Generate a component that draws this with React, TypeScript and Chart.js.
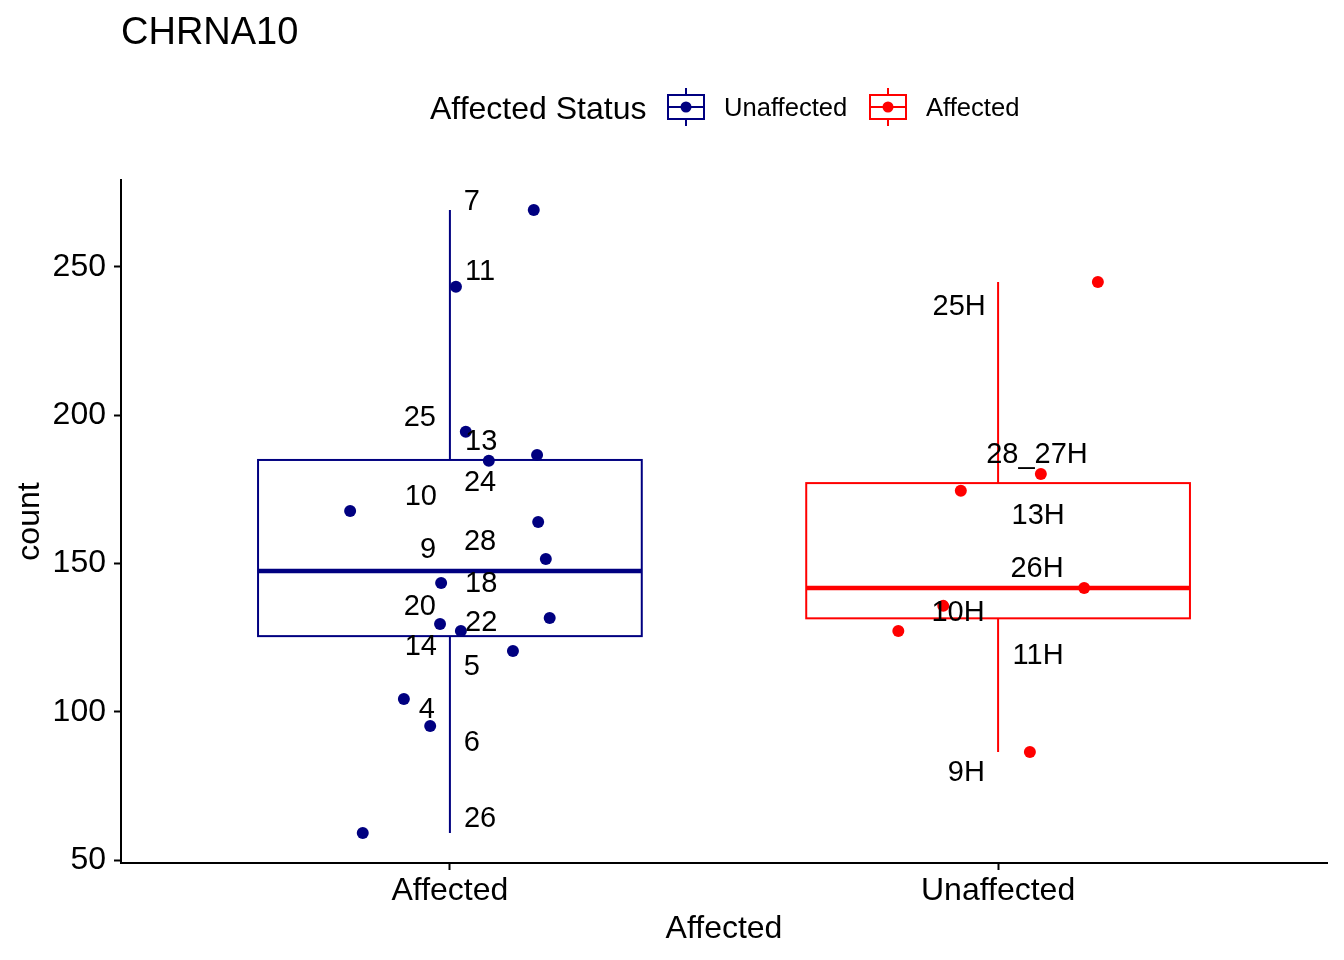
import { useEffect, useRef } from "react";
import { Chart, registerables } from "chart.js";

Chart.register(...registerables);

const FONT = "'Liberation Sans', Arial, Helvetica, sans-serif";

// categories on the x axis and their colours
const groups = ["Affected", "Unaffected"];
const groupColors = ["#000080", "#FF0000"];

// box statistics per group
const whiskerLow = [59.1, 86.4];
const q1 = [125.5, 131.5];
const median = [147.5, 141.7];
const q3 = [184.9, 177.1];
const whiskerHigh = [269.2, 244.9];

// jittered points
const affectedCounts = [269.2, 243.3, 194.4, 184.6, 186.6, 167.7, 164, 151.5, 143.4, 129.6, 127.2, 131.6, 120.5, 104.3, 95.2, 59.1];
const affectedJitter = [0.153, 0.011, 0.029, 0.071, 0.159, -0.182, 0.161, 0.175, -0.016, -0.018, 0.02, 0.182, 0.115, -0.084, -0.036, -0.159];
const unaffectedCounts = [244.9, 180.2, 174.5, 141.7, 135.7, 127.2, 86.4];
const unaffectedJitter = [0.182, 0.078, -0.068, 0.157, -0.1, -0.182, 0.058];

// sample labels
const affectedLabels = ["7", "11", "25", "13", "24", "10", "28", "9", "18", "20", "22", "14", "5", "4", "6", "26"];
const affectedLabelX = [1.04, 1.055, 0.945, 1.057, 1.055, 0.947, 1.055, 0.96, 1.057, 0.945, 1.057, 0.947, 1.04, 0.958, 1.04, 1.055];
const affectedLabelY = [272.6, 249, 199.7, 191.7, 177.8, 173.1, 157.9, 155.2, 143.8, 136, 130.6, 122.5, 115.8, 101.3, 90.1, 64.5];
const unaffectedLabels = ["25H", "28_27H", "13H", "26H", "10H", "11H", "9H"];
const unaffectedLabelX = [1.929, 2.071, 2.073, 2.071, 1.927, 2.073, 1.942];
const unaffectedLabelY = [237.2, 187.3, 166.7, 148.8, 134, 119.5, 80];

const yTicks = [50, 100, 150, 200, 250];
const legendLabels = ["Unaffected", "Affected"];
const legendColors = ["#000080", "#FF0000"];

const BOX_HALF = 0.35;

const boxPlugin = {
  id: "boxes",
  beforeDatasetsDraw(chart: any) {
    const { ctx, scales } = chart;
    const x = scales.x;
    const y = scales.y;
    ctx.save();
    groups.forEach((_, i) => {
      const cx = x.getPixelForValue(i + 1);
      const left = x.getPixelForValue(i + 1 - BOX_HALF);
      const right = x.getPixelForValue(i + 1 + BOX_HALF);
      ctx.strokeStyle = groupColors[i];
      ctx.lineWidth = 2;
      ctx.beginPath();
      ctx.moveTo(cx, y.getPixelForValue(whiskerHigh[i]));
      ctx.lineTo(cx, y.getPixelForValue(q3[i]));
      ctx.moveTo(cx, y.getPixelForValue(q1[i]));
      ctx.lineTo(cx, y.getPixelForValue(whiskerLow[i]));
      ctx.stroke();
      const top = y.getPixelForValue(q3[i]);
      const bottom = y.getPixelForValue(q1[i]);
      ctx.strokeRect(left, top, right - left, bottom - top);
      ctx.lineWidth = 4.5;
      ctx.beginPath();
      ctx.moveTo(left, y.getPixelForValue(median[i]));
      ctx.lineTo(right, y.getPixelForValue(median[i]));
      ctx.stroke();
    });
    ctx.restore();
  },
  afterDatasetsDraw(chart: any) {
    const { ctx, scales } = chart;
    const x = scales.x;
    const y = scales.y;
    const size = 29;
    ctx.save();
    ctx.fillStyle = "#000";
    ctx.font = `${size}px ${FONT}`;
    ctx.textAlign = "center";
    ctx.textBaseline = "alphabetic";
    const put = (labels: string[], xs: number[], ys: number[]) => {
      labels.forEach((t, i) => {
        ctx.fillText(t, x.getPixelForValue(xs[i]), y.getPixelForValue(ys[i]) + size * 0.358);
      });
    };
    put(affectedLabels, affectedLabelX, affectedLabelY);
    put(unaffectedLabels, unaffectedLabelX, unaffectedLabelY);
    ctx.restore();
  },
  afterDraw(chart: any) {
    const { ctx, chartArea } = chart;
    ctx.save();
    ctx.fillStyle = "#000";
    // title
    ctx.font = `38px ${FONT}`;
    ctx.textAlign = "left";
    ctx.textBaseline = "alphabetic";
    ctx.fillText("CHRNA10", chartArea.left, 44);

    // axis titles
    ctx.font = `32px ${FONT}`;
    ctx.textAlign = "center";
    ctx.fillText(groups[0], (chartArea.left + chartArea.right) / 2, 938);
    ctx.save();
    ctx.translate(39, (chartArea.top + chartArea.bottom) / 2);
    ctx.rotate(-Math.PI / 2);
    ctx.fillText("count", 0, 0);
    ctx.restore();

    // legend
    const cy = 107;
    ctx.textAlign = "left";
    ctx.font = `32px ${FONT}`;
    ctx.fillText("Affected Status", 430, cy + 11.5);
    const keyX = [668, 870];
    const textX = [724, 926];
    legendLabels.forEach((lab, i) => {
      const kx = keyX[i];
      ctx.strokeStyle = legendColors[i];
      ctx.fillStyle = legendColors[i];
      ctx.lineWidth = 2;
      ctx.strokeRect(kx, cy - 12, 36, 24);
      ctx.beginPath();
      ctx.moveTo(kx, cy);
      ctx.lineTo(kx + 36, cy);
      ctx.moveTo(kx + 18, cy - 19);
      ctx.lineTo(kx + 18, cy - 12);
      ctx.moveTo(kx + 18, cy + 12);
      ctx.lineTo(kx + 18, cy + 19);
      ctx.stroke();
      ctx.beginPath();
      ctx.arc(kx + 18, cy, 5.5, 0, Math.PI * 2);
      ctx.fill();
      ctx.fillStyle = "#000";
      ctx.font = `25.6px ${FONT}`;
      ctx.fillText(lab, textX[i], cy + 9.2);
    });
    ctx.restore();
  },
};

export default function App() {
  const canvasRef = useRef<HTMLCanvasElement>(null);
  const chartRef = useRef<Chart | null>(null);

  useEffect(() => {
    document.body.style.margin = "0";
    if (!canvasRef.current) return;
    if (chartRef.current) chartRef.current.destroy();

    const ctx = canvasRef.current.getContext("2d");
    if (!ctx) return;

    chartRef.current = new Chart(ctx, {
      type: "scatter",
      data: {
        datasets: [
          {
            label: groups[0],
            data: affectedCounts.map((v, i) => ({ x: 1 + affectedJitter[i], y: v })),
            backgroundColor: groupColors[0],
            borderWidth: 0,
            pointRadius: 6,
          },
          {
            label: groups[1],
            data: unaffectedCounts.map((v, i) => ({ x: 2 + unaffectedJitter[i], y: v })),
            backgroundColor: groupColors[1],
            borderWidth: 0,
            pointRadius: 6,
          },
        ],
      },
      options: {
        responsive: true,
        maintainAspectRatio: false,
        animation: false,
        events: [],
        layout: { padding: { top: 180, right: 17, left: 0, bottom: 0 } },
        plugins: {
          legend: { display: false },
          title: { display: false },
          tooltip: { enabled: false },
        },
        scales: {
          x: {
            type: "linear",
            min: 0.4,
            max: 2.6,
            afterBuildTicks: (scale: any) => {
              scale.ticks = groups.map((_, i) => ({ value: i + 1 }));
            },
            afterFit: (scale: any) => {
              scale.height = 97;
            },
            ticks: {
              callback: (v: any) => groups[Number(v) - 1] ?? "",
              color: "#000",
              font: { family: FONT, size: 32 },
              padding: 2,
              maxRotation: 0,
              autoSkip: false,
            },
            grid: {
              drawOnChartArea: false,
              drawTicks: true,
              tickLength: 7,
              tickWidth: 2,
              tickColor: "#000",
            },
            border: { display: true, color: "#000", width: 2 },
          },
          y: {
            type: "linear",
            min: 49,
            max: 279.3,
            afterBuildTicks: (scale: any) => {
              scale.ticks = yTicks.map((v) => ({ value: v }));
            },
            afterFit: (scale: any) => {
              scale.width = 121;
            },
            ticks: {
              color: "#000",
              font: { family: FONT, size: 32 },
              padding: 8,
            },
            grid: {
              drawOnChartArea: false,
              drawTicks: true,
              tickLength: 7,
              tickWidth: 2,
              tickColor: "#000",
            },
            border: { display: true, color: "#000", width: 2 },
          },
        },
      },
      plugins: [boxPlugin],
    });

    return () => {
      if (chartRef.current) {
        chartRef.current.destroy();
        chartRef.current = null;
      }
    };
  }, []);

  return (
    <div style={{ width: 1344, height: 960, background: "#fff" }}>
      <canvas ref={canvasRef}></canvas>
    </div>
  );
}
